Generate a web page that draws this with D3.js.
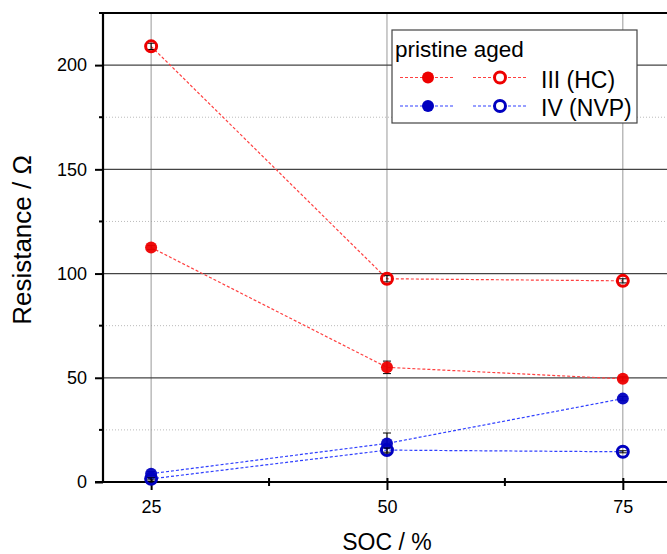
<!DOCTYPE html>
<html><head><meta charset="utf-8">
<script src="https://cdn.jsdelivr.net/npm/d3@7"></script>
<style>body{margin:0;background:#fff}svg{display:block;font-family:"Liberation Sans",Arial,sans-serif}</style>
</head><body><svg id="c" width="667" height="554"></svg>
<script>
const soc = [25, 50, 75];
const pristineHC = [112.5, 55, 49.5];
const pristineHCErr = [1, 3, 1];
const agedHC = [209, 97.5, 96.5];
const agedHCErr = [1.5, 1.5, 1];
const pristineNVP = [4, 18.5, 40];
const pristineNVPErr = [1, 5, 1];
const agedNVP = [1.5, 15.3, 14.5];
const agedNVPErr = [0.5, 1, 0.5];
const xTicks = [25, 50, 75];
const yTicks = [0, 50, 100, 150, 200];
const yMinor = [25, 75, 125, 175];

const series = [
  {name:"pristine HC", vals:pristineHC, err:pristineHCErr, color:"#ee0000", line:"#ff4040", open:false},
  {name:"aged HC", vals:agedHC, err:agedHCErr, color:"#ee0000", line:"#ff4040", open:true},
  {name:"pristine NVP", vals:pristineNVP, err:pristineNVPErr, color:"#0000c0", line:"#3040ff", open:false},
  {name:"aged NVP", vals:agedNVP, err:agedNVPErr, color:"#0000c0", line:"#3040ff", open:true}
];

const svg = d3.select("#c");
const L = 103, T = 13, B = 482, R = 670;
const x = d3.scaleLinear().domain([19.9, 80]).range([L, R]);
const y = d3.scaleLinear().domain([0, 225]).range([B, T]);

// grid
svg.append("g").selectAll("line").data(yMinor).join("line")
  .attr("x1", L).attr("x2", 667).attr("y1", d=>y(d)).attr("y2", d=>y(d))
  .attr("stroke", "#bbb").attr("stroke-width", 1).attr("stroke-dasharray", "1,2");
svg.append("g").selectAll("line").data(xTicks).join("line")
  .attr("x1", d=>x(d)).attr("x2", d=>x(d)).attr("y1", T).attr("y2", B)
  .attr("stroke", "#999").attr("stroke-width", 1);
svg.append("g").selectAll("line").data(yTicks.slice(1)).join("line")
  .attr("x1", L).attr("x2", 667).attr("y1", d=>y(d)).attr("y2", d=>y(d))
  .attr("stroke", "#444").attr("stroke-width", 1.2);

// axes
const xAxis = d3.axisBottom(x).tickValues(xTicks).tickSize(8).tickPadding(10);
const gx = svg.append("g").attr("transform", `translate(0,${B})`).call(xAxis);
gx.select(".domain").remove();
gx.selectAll(".tick line").attr("stroke", "#000").attr("stroke-width", 2).attr("y1", -4);
gx.selectAll("text").attr("font-size", 18).attr("fill", "#000").attr("font-family", "Liberation Sans, Arial");
svg.append("g").selectAll("line").data([37.5, 62.5]).join("line")
  .attr("x1", d=>x(d)).attr("x2", d=>x(d)).attr("y1", B-4).attr("y2", B+4)
  .attr("stroke", "#000").attr("stroke-width", 2);

const yAxis = d3.axisLeft(y).tickValues(yTicks).tickSize(8).tickPadding(8);
const gy = svg.append("g").attr("transform", `translate(${L},0)`).call(yAxis);
gy.select(".domain").remove();
gy.selectAll(".tick line").attr("stroke", "#000").attr("stroke-width", 2).attr("x1", 0);
gy.selectAll("text").attr("font-size", 18).attr("fill", "#000").attr("font-family", "Liberation Sans, Arial");
svg.append("g").selectAll("line").data(yMinor).join("line")
  .attr("x1", L-4).attr("x2", L).attr("y1", d=>y(d)).attr("y2", d=>y(d))
  .attr("stroke", "#000").attr("stroke-width", 2);

svg.append("line").attr("x1", L).attr("x2", L).attr("y1", T-1).attr("y2", B+1).attr("stroke", "#000").attr("stroke-width", 2.2);
svg.append("line").attr("x1", L-8).attr("x2", 667).attr("y1", B).attr("y2", B).attr("stroke", "#000").attr("stroke-width", 2.2);
svg.append("line").attr("x1", L-4).attr("x2", 667).attr("y1", T).attr("y2", T).attr("stroke", "#000").attr("stroke-width", 2.2);

// axis labels
svg.append("text").attr("x", x(50)).attr("y", 550).attr("text-anchor", "middle")
  .attr("font-size", 23).text("SOC / %");
svg.append("text").attr("transform", `translate(31,240) rotate(-90)`).attr("text-anchor", "middle")
  .attr("font-size", 26).text("Resistance / Ω");

// series
const line = d3.line().x((d,i)=>x(soc[i])).y(d=>y(d));
series.forEach(s => {
  const g = svg.append("g");
  g.append("path").attr("d", line(s.vals)).attr("fill", "none")
    .attr("stroke", s.line).attr("stroke-width", 1.2).attr("stroke-dasharray", "3,2");
  s.vals.forEach((v,i) => {
    const cx = x(soc[i]);
    const e = s.err[i];
    g.append("line").attr("x1", cx).attr("x2", cx).attr("y1", y(v+e)).attr("y2", y(v-e)).attr("stroke", "#000").attr("stroke-width", 1);
    g.append("line").attr("x1", cx-4).attr("x2", cx+4).attr("y1", y(v+e)).attr("y2", y(v+e)).attr("stroke", "#000").attr("stroke-width", 1);
    g.append("line").attr("x1", cx-4).attr("x2", cx+4).attr("y1", y(v-e)).attr("y2", y(v-e)).attr("stroke", "#000").attr("stroke-width", 1);
    if (s.open) {
      g.append("circle").attr("cx", cx).attr("cy", y(v)).attr("r", 5.5)
        .attr("fill", "none").attr("stroke", s.color).attr("stroke-width", 3);
    } else {
      g.append("circle").attr("cx", cx).attr("cy", y(v)).attr("r", 6).attr("fill", s.color).attr("opacity", 0.95);
    }
  });
});

// legend
const lg = svg.append("g");
lg.append("rect").attr("x", 392).attr("y", 30).attr("width", 245).attr("height", 93)
  .attr("fill", "#fff").attr("stroke", "#444").attr("stroke-width", 1.2);
lg.append("text").attr("x", 395).attr("y", 57).attr("font-size", 22.5).text("pristine aged");
const rows = [{lab:"III (HC)", p:series[0], a:series[1]}, {lab:"IV (NVP)", p:series[2], a:series[3]}];
rows.forEach((r, i) => {
  const yy = 77.5 + i*28.5;
  [[400, 455, 428, r.p], [473, 527, 500, r.a]].forEach(([a, b, c, s]) => {
    lg.append("line").attr("x1", a).attr("x2", b).attr("y1", yy).attr("y2", yy)
      .attr("stroke", s.line).attr("stroke-width", 1.2).attr("stroke-dasharray", "3,2");
    if (s.open) lg.append("circle").attr("cx", c).attr("cy", yy).attr("r", 5.5).attr("fill", "#fff").attr("stroke", s.color).attr("stroke-width", 3);
    else lg.append("circle").attr("cx", c).attr("cy", yy).attr("r", 6).attr("fill", s.color);
  });
  lg.append("text").attr("x", 541).attr("y", yy + 10).attr("font-size", 23).text(r.lab);
});
</script></body></html>
